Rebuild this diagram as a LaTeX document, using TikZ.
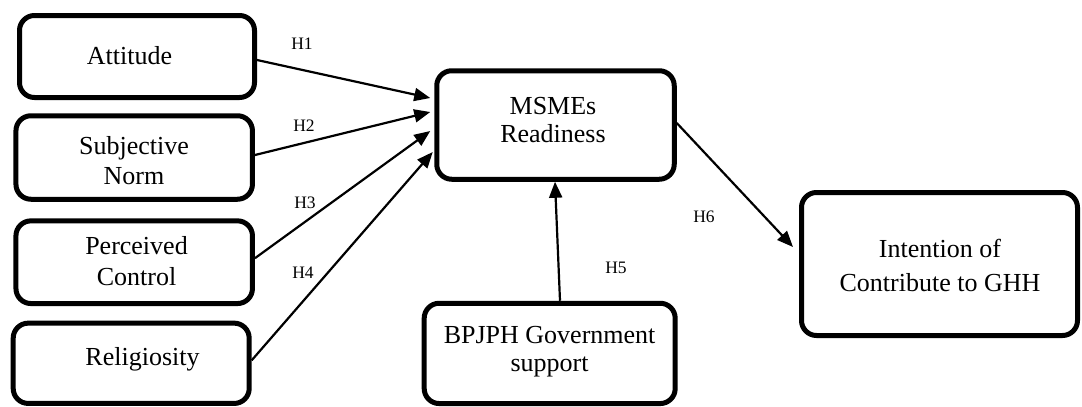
\documentclass[tikz,border=0pt]{standalone}
\usepackage{fontspec}
\setmainfont{Liberation Serif}
\usetikzlibrary{arrows.meta}
\begin{document}
\begin{tikzpicture}[x=1pt,y=-1pt,
  block/.style={draw, line width=5pt, rounded corners=15pt, inner sep=0pt},
  lbl/.style={font=\fontsize{26}{29.5}\selectfont, align=center, inner sep=0pt},
  hyp/.style={font=\fontsize{17.5}{20}\selectfont, inner sep=0pt},
  link/.style={line width=2.2pt, -{Triangle[length=16pt,width=13pt]}}]
\useasboundingbox (0,0) rectangle (1082,407);

% constructs on the left
\node[block, minimum width=235pt, minimum height=82pt] (att) at (137,56.5) {};
\node[lbl] (attT) at (129.5,56.1) {Attitude};
\node[block, minimum width=236.5pt, minimum height=83.5pt] (sub) at (134.2,157.5) {};
\node[lbl] (subT) at (134,160.6) {Subjective\\Norm};
\node[block, minimum width=236.5pt, minimum height=82.7pt] (per) at (134.2,262.2) {};
\node[lbl, font=\fontsize{26}{31}\selectfont] (perT) at (136.5,261.6) {Perceived\\Control};
\node[block, minimum width=236pt, minimum height=80.3pt] (rel) at (131.2,363.3) {};
\node[lbl] (relT) at (142.5,358.9) {Religiosity};

% mediator, moderator and outcome
\node[block, minimum width=237.5pt, minimum height=108.5pt] (msme) at (555.5,125) {};
\node[lbl, font=\fontsize{26}{28}\selectfont] (msmeT) at (553,120.4) {MSMEs\\Readiness};
\node[block, minimum width=251pt, minimum height=100.3pt] (bp) at (549.7,353.4) {};
\node[lbl, font=\fontsize{26}{28}\selectfont] (bpT) at (549.6,352) {BPJPH Government\\support};
\node[block, minimum width=276pt, minimum height=143pt] (int) at (939.5,264) {};
\node[lbl, font=\fontsize{26}{34}\selectfont] (intT) at (940,265.1) {Intention of\\Contribute to GHH};

% hypothesised paths
\draw[link] ([shift={(0,3.5)}]att.east) -- ([shift={(-4,-27)}]msme.west);
\draw[link] ([shift={(0,-2.5)}]sub.east) -- ([shift={(-4,-13)}]msme.west);
\draw[link] ([shift={(0,-4)}]per.east) -- ([shift={(-4,6)}]msme.west);
\draw[link] ([shift={(0,-3)}]rel.east) -- ([shift={(-1.5,27)}]msme.west);
\draw[link] ([shift={(10.3,0)}]bp.north) -- ([shift={(-0.5,0)}]msme.south);
\draw[link] ([shift={(0,-2)}]msme.east) -- ([shift={(-6,-17)}]int.west);

% path labels
\node[hyp] (h1) at (302,44) {H1};
\node[hyp] (h2) at (304,126) {H2};
\node[hyp] (h3) at (305,203) {H3};
\node[hyp] (h4) at (303,273) {H4};
\node[hyp] (h5) at (616,268) {H5};
\node[hyp] (h6) at (704,216.5) {H6};
\end{tikzpicture}
\end{document}
